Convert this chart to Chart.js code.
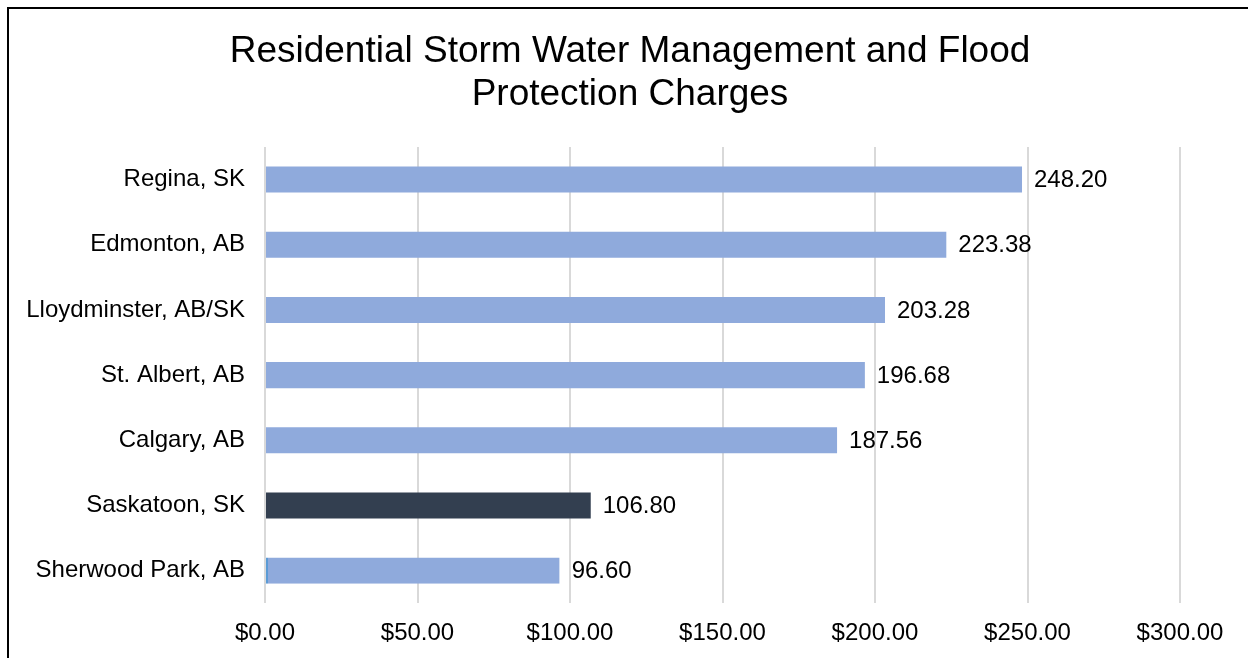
<!DOCTYPE html>
<html>
<head>
<meta charset="utf-8">
<script src="https://cdn.jsdelivr.net/npm/chart.js@4"></script>
<style>
	html, body { margin: 0; padding: 0; background: #fff; overflow: hidden; }
	#frame {
		position: absolute;
		left: 7px;
		top: 7px;
		width: 1260px;
		height: 680px;
		border: 2px solid #000;
		box-sizing: border-box;
	}
	#stormChart {
		position: absolute;
		left: 0;
		top: 0;
	}
</style>
</head>
<body>
<div id="frame">
	<canvas id="stormChart" width="1239" height="665" style="width:1239px;height:665px"></canvas>
</div>
<script>
const cities = [
	"Regina, SK",
	"Edmonton, AB",
	"Lloydminster, AB/SK",
	"St. Albert, AB",
	"Calgary, AB",
	"Saskatoon, SK",
	"Sherwood Park, AB",
];
const charges = [248.20, 223.38, 203.28, 196.68, 187.56, 106.80, 96.60];
const barColors = ["#8faadc", "#8faadc", "#8faadc", "#8faadc", "#8faadc", "#333f50", "#8faadc"];
const titleLines = ["Residential Storm Water Management and Flood", "Protection Charges"];

const fontFamily = "'Liberation Sans', Arial, sans-serif";

// title is centred on the whole frame, not on the plot, so draw it here
const centredTitle = {
	id: "centredTitle",
	afterDraw(chart) {
		const ctx = chart.ctx;
		ctx.save();
		ctx.font = "37px " + fontFamily;
		ctx.fillStyle = "#000";
		ctx.textAlign = "center";
		ctx.textBaseline = "middle";
		titleLines.forEach((line, i) => {
			ctx.fillText(line, 621, 42.5 + i * 43);
		});
		ctx.restore();
	},
};

// draws the value at the end of each bar
const valueLabels = {
	id: "valueLabels",
	afterDatasetsDraw(chart) {
		const ctx = chart.ctx;
		const meta = chart.getDatasetMeta(0);
		ctx.save();
		ctx.font = "24px " + fontFamily;
		ctx.fillStyle = "#000";
		ctx.textAlign = "left";
		ctx.textBaseline = "middle";
		meta.data.forEach((bar, i) => {
			ctx.fillText(charges[i].toFixed(2), bar.x + 12, bar.y + 1);
		});
		ctx.restore();
	},
};

const ctx = document.getElementById("stormChart").getContext("2d");
new Chart(ctx, {
	type: "bar",
	data: {
		labels: cities,
		datasets: [
			{
				data: charges,
				backgroundColor: barColors,
				// the Sherwood Park bar has a thin darker edge at zero
				borderColor: "#5b9bd5",
				borderWidth: [0, 0, 0, 0, 0, 0, { left: 2, right: 0, top: 0, bottom: 0 }],
				borderSkipped: false,
				barPercentage: 0.4,
				categoryPercentage: 1,
			},
		],
	},
	options: {
		indexAxis: "y",
		responsive: false,
		animation: false,
		layout: { padding: { top: 138, right: 68, bottom: 10, left: 0 } },
		plugins: {
			legend: { display: false },
			tooltip: { enabled: false },
			title: { display: false },
		},
		scales: {
			x: {
				min: 0,
				max: 300,
				ticks: {
					stepSize: 50,
					color: "#000",
					padding: 16,
					font: { family: fontFamily, size: 24 },
					callback: (v) => "$" + Number(v).toFixed(2),
				},
				grid: { color: "#d9d9d9", lineWidth: 2, drawTicks: false },
				border: { display: false },
			},
			y: {
				afterFit(scale) {
					scale.width = 256;
				},
				ticks: {
					color: "#000",
					padding: 20,
					font: { family: fontFamily, size: 24 },
				},
				grid: { display: false, drawTicks: false },
				border: { display: false },
			},
		},
	},
	plugins: [valueLabels, centredTitle],
});
</script>
</body>
</html>
